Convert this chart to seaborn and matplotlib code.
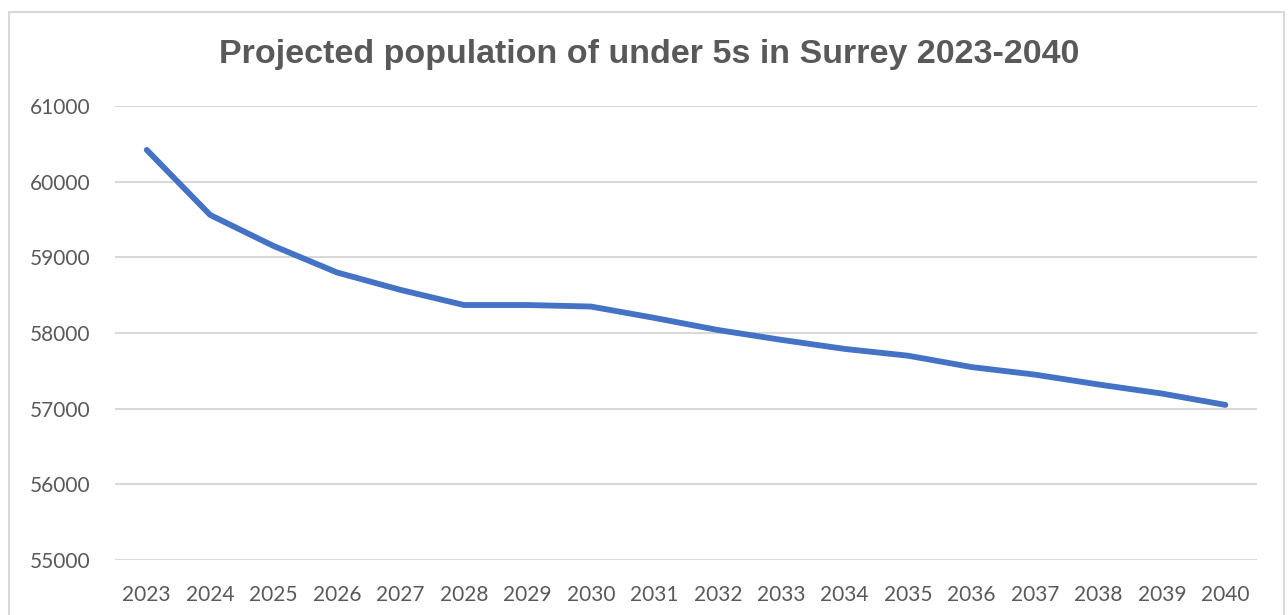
import matplotlib
matplotlib.use('Agg')
import matplotlib.pyplot as plt
import matplotlib.patches as patches
import seaborn as sns
import pandas as pd

# data
years = [2023, 2024, 2025, 2026, 2027, 2028, 2029, 2030, 2031,
         2032, 2033, 2034, 2035, 2036, 2037, 2038, 2039, 2040]
under5s = [60420, 59560, 59150, 58800, 58570, 58370, 58370, 58350, 58200,
           58040, 57910, 57790, 57700, 57550, 57450, 57320, 57200, 57050]
y_ticks = [55000, 56000, 57000, 58000, 59000, 60000, 61000]
title = 'Projected population of under 5s in Surrey 2023-2040'

df = pd.DataFrame({'Year': years, 'Population': under5s})

sns.set_theme(style='white')
plt.rcParams['font.family'] = ['Lato', 'DejaVu Sans']

fig = plt.figure(figsize=(12.88, 6.15), dpi=100)
ax = fig.add_axes([0.0893, 0.0894, 0.8867, 0.7382])

sns.lineplot(data=df, x='Year', y='Population', color='#4472C4',
             linewidth=4.2, ax=ax, solid_capstyle='round')

ax.set_xlim(years[0] - 0.5, years[-1] + 0.5)
ax.set_ylim(y_ticks[0], y_ticks[-1])
ax.set_xticks(years)
ax.set_xticklabels([str(y) for y in years])
ax.set_yticks(y_ticks)
ax.set_yticklabels([str(v) for v in y_ticks])
ax.tick_params(axis='both', length=0, labelsize=15, labelcolor='#595959')
ax.tick_params(axis='y', pad=18)
ax.tick_params(axis='x', pad=18)
ax.grid(axis='y', color='#d9d9d9', linewidth=1.5)
ax.set_axisbelow(True)
ax.set_xlabel('')
ax.set_ylabel('')
for s in ax.spines.values():
    s.set_visible(False)

# title
fig.text(0.504, 0.912, title, ha='center', va='center', fontsize=24.5,
         fontweight='bold', color='#595959', family=['Liberation Sans', 'DejaVu Sans'])

# chart area border
fig.patches.append(patches.Rectangle((0.007, -0.01), 0.990, 0.99, transform=fig.transFigure,
                                     fill=False, edgecolor='#d9d9d9', linewidth=1.5))

fig.savefig('out.png', dpi=100, facecolor='white')
